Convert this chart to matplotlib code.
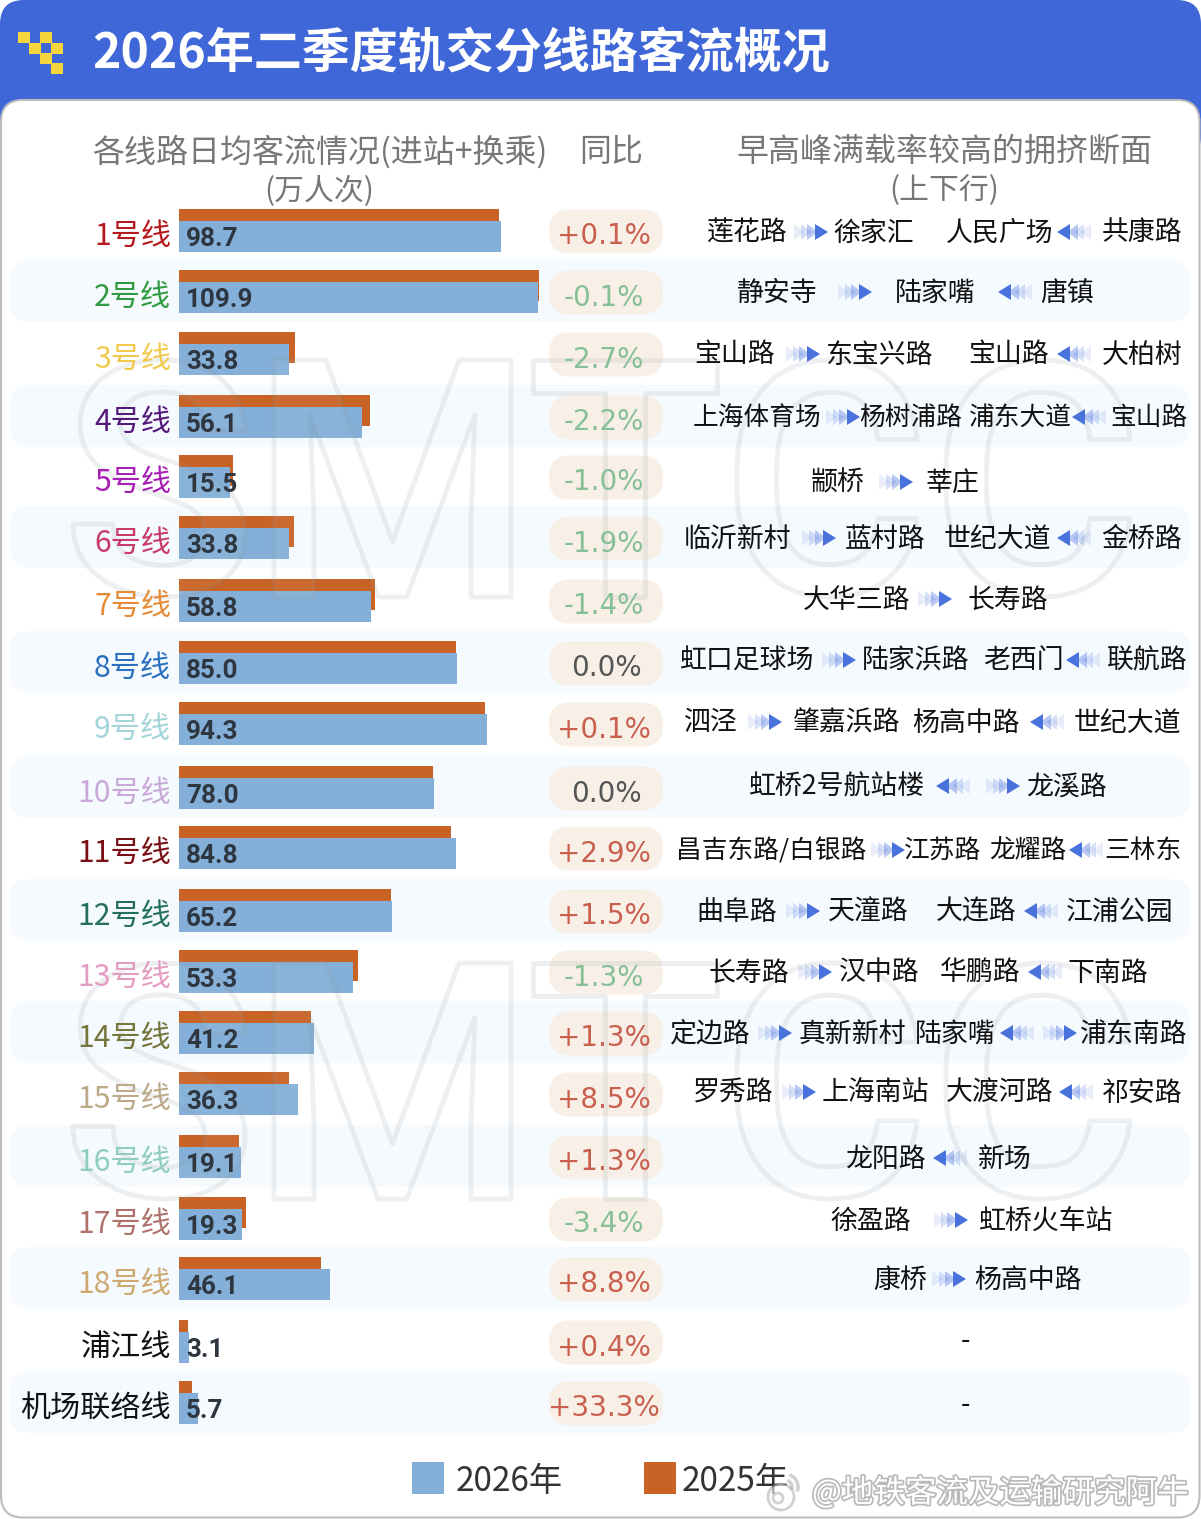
import numpy as np
import matplotlib
matplotlib.use('Agg')
import matplotlib.pyplot as plt
import matplotlib.patheffects as pe
from matplotlib.font_manager import FontProperties
from matplotlib.patches import FancyBboxPatch, PathPatch, Polygon, Rectangle, Circle, Arc
from matplotlib.textpath import TextPath
from matplotlib.transforms import Affine2D

plt.rcParams['font.family'] = ['Noto Sans CJK SC', 'DejaVu Sans']

# data
lines = ['1号线', '2号线', '3号线', '4号线', '5号线', '6号线', '7号线', '8号线', '9号线', '10号线',
         '11号线', '12号线', '13号线', '14号线', '15号线', '16号线', '17号线', '18号线', '浦江线', '机场联络线']
flow2026 = [98.7, 109.9, 33.8, 56.1, 15.5, 33.8, 58.8, 85.0, 94.3, 78.0,
            84.8, 65.2, 53.3, 41.2, 36.3, 19.1, 19.3, 46.1, 3.1, 5.7]
flow2025 = [98.1, 110.4, 35.5, 58.5, 16.5, 35.2, 59.9, 84.9, 93.7, 77.9,
            83.3, 64.9, 54.7, 40.4, 33.7, 18.4, 20.6, 43.4, 2.9, 4.1]
yoy = ['+0.1%', '-0.1%', '-2.7%', '-2.2%', '-1.0%', '-1.9%', '-1.4%', '0.0%', '+0.1%', '0.0%',
       '+2.9%', '+1.5%', '-1.3%', '+1.3%', '+8.5%', '+1.3%', '-3.4%', '+8.8%', '+0.4%', '+33.3%']

# > and < are the direction arrows
sections = [
    ['莲花路', '>', '徐家汇', '人民广场', '<', '共康路'],
    ['静安寺', '>', '陆家嘴', '<', '唐镇'],
    ['宝山路', '>', '东宝兴路', '宝山路', '<', '大柏树'],
    ['上海体育场', '>', '杨树浦路', '浦东大道', '<', '宝山路'],
    ['颛桥', '>', '莘庄'],
    ['临沂新村', '>', '蓝村路', '世纪大道', '<', '金桥路'],
    ['大华三路', '>', '长寿路'],
    ['虹口足球场', '>', '陆家浜路', '老西门', '<', '联航路'],
    ['泗泾', '>', '肇嘉浜路', '杨高中路', '<', '世纪大道'],
    ['虹桥2号航站楼', '<', '>', '龙溪路'],
    ['昌吉东路/白银路', '>', '江苏路', '龙耀路', '<', '三林东'],
    ['曲阜路', '>', '天潼路', '大连路', '<', '江浦公园'],
    ['长寿路', '>', '汉中路', '华鹏路', '<', '下南路'],
    ['定边路', '>', '真新新村', '陆家嘴', '<', '>', '浦东南路'],
    ['罗秀路', '>', '上海南站', '大渡河路', '<', '祁安路'],
    ['龙阳路', '<', '新场'],
    ['徐盈路', '>', '虹桥火车站'],
    ['康桥', '>', '杨高中路'],
    ['-'],
    ['-'],
]

# layout, pixels
section_x = [
    [747, 811, 874, 1000, 1074, 1142],
    [777, 855, 935, 1015, 1067],
    [735, 803, 879, 1009, 1074, 1142],
    [757, 843, 911, 1020, 1089, 1149],
    [838, 896, 952],
    [738, 819, 885, 997, 1074, 1142],
    [857, 935, 1008],
    [747, 839, 916, 1023, 1083, 1147],
    [711, 765, 846, 966, 1047, 1127],
    [837, 953, 1003, 1066],
    [771, 888, 943, 1028, 1086, 1143],
    [737, 803, 868, 976, 1041, 1120],
    [749, 815, 879, 980, 1045, 1108],
    [710, 775, 852, 955, 1017, 1060, 1134],
    [733, 799, 875, 1000, 1076, 1142],
    [885, 950, 1005],
    [871, 951, 1046],
    [900, 949, 1028],
    [965],
    [965],
]
section_y = [231, 291, 353, 416, 481, 537, 598, 659, 721, 785,
             849, 910, 971, 1032, 1091, 1157, 1219, 1278, 1339, 1404]
section_size = [19.4, 19.4, 19.4, 18.5, 19.4, 19.4, 19.4, 19.4, 19.4, 19.4,
                18.5, 19.4, 19.4, 19.4, 19.4, 19.4, 19.4, 19.4, 19.4, 19.4]
row_top = [221, 282, 344, 407, 467, 528, 591, 653, 714, 778,
           838, 901, 962, 1023, 1084, 1147, 1209, 1269, 1332, 1393]
line_colors = ['#b5181d', '#2f9a3f', '#f2c94f', '#54197a', '#a81fb5', '#c93a68', '#e68a35', '#2a6fc0',
               '#a3d5d8', '#c9a9d8', '#7a1015', '#24705a', '#e39cc2', '#75743a', '#bba98a', '#8fcdc0',
               '#b0716c', '#cfa86f', '#111111', '#111111']

W, H = 1201, 1519
BAR_X0 = 179
PX_PER_UNIT = 3.265
BLUE = '#84afd9'
ORANGE = '#c96225'
HEAD = '#3f67d8'


def box(ax, x0, y0, x1, y1, r, **kw):
    p = FancyBboxPatch((x0 + r, y0 + r), x1 - x0 - 2 * r, y1 - y0 - 2 * r,
                       boxstyle='round,pad=%f,rounding_size=%f' % (r, r), **kw)
    ax.add_patch(p)
    return p


def arrow(ax, xc, yc, direction):
    # three faded chevrons and one solid head
    sign = 1 if direction == '>' else -1
    for off, a in zip([-17, -10, -4, 4], [0.12, 0.22, 0.38, 1.0]):
        x = xc + sign * off
        w = 13 if a == 1.0 else 11
        ax.add_patch(Polygon([[x, yc - 8], [x + sign * w, yc], [x, yc + 8]], closed=True,
                             fc='#4a72dc', ec='none', alpha=a, zorder=6))


def outline_word(ax, ch, x0, x1, y0, y1):
    tp = TextPath((0, 0), ch, size=100, prop=FontProperties(family='Roboto', weight='medium'))
    bb = tp.get_extents()
    tr = (Affine2D().translate(-bb.x0, -bb.y0)
          .scale((x1 - x0) / bb.width, -(y1 - y0) / bb.height)
          .translate(x0, y1))
    ax.add_patch(PathPatch(tr.transform_path(tp), fc=(1, 1, 1, 0.05), ec=(0.55, 0.58, 0.6, 0.14),
                           lw=3.5, joinstyle='round', zorder=5))


fig = plt.figure(figsize=(W / 100, H / 100), dpi=100, facecolor='white')

# background layer in pixel coordinates
bg = fig.add_axes([0, 0, 1, 1], zorder=0)
bg.set_xlim(0, W)
bg.set_ylim(H, 0)
bg.axis('off')

box(bg, 0, 0, W, 160, 24, fc=HEAD, ec='none')
box(bg, 1, 100, W - 1.5, H - 1.5, 22, fc='white', ec='#bdbdbd', lw=1.5)

for i in range(1, 20, 2):
    box(bg, 10, row_top[i] - 22, 1190, row_top[i] + 40, 20, fc='#f5faff', ec='none')

for i, t in enumerate(yoy):
    box(bg, 549, row_top[i] - 11.5, 663, row_top[i] + 32.5, 21, fc='#f8f0e7', ec='none')

# logo
for lx, ly in [(18, 32), (40, 32), (29, 43), (51, 43), (40, 53), (51, 63)]:
    bg.add_patch(Rectangle((lx, ly), 11.5, 10.5, fc='#f4d63c', ec='none'))

bg.text(92, 54, '2026年二季度轨交分线路客流概况', color='white', fontsize=34.6, fontweight='bold',
        ha='left', va='center')

bg.text(320, 152, '各线路日均客流情况(进站+换乘)', color='#777777', fontsize=23, ha='center', va='center')
bg.text(319, 191, '(万人次)', color='#777777', fontsize=21.5, ha='center', va='center')
bg.text(611, 152, '同比', color='#777777', fontsize=23, ha='center', va='center')
bg.text(944, 152, '早高峰满载率较高的拥挤断面', color='#777777', fontsize=23, ha='center', va='center')
bg.text(944, 191, '(上下行)', color='#777777', fontsize=21.5, ha='center', va='center')

# bars, x in 万人次, y in pixels
ax = fig.add_axes([BAR_X0 / W, 0, 1 - BAR_X0 / W, 1], zorder=1)
ax.patch.set_alpha(0)
ax.set_xlim(0, (W - BAR_X0) / PX_PER_UNIT)
ax.set_ylim(H, 0)
ax.axis('off')
ypos = np.array(row_top, dtype=float) + 15.5
ax.barh(ypos - 12, flow2025, height=31, color=ORANGE, zorder=1)
ax.barh(ypos, flow2026, height=31, color=BLUE, zorder=2)

# text and watermark layer
fg = fig.add_axes([0, 0, 1, 1], zorder=2)
fg.patch.set_alpha(0)
fg.set_xlim(0, W)
fg.set_ylim(H, 0)
fg.axis('off')

for i in range(len(lines)):
    fg.text(171, row_top[i] + 15.5, lines[i], color=line_colors[i], fontsize=21.7, ha='right', va='center', zorder=7)
    fg.text(186, row_top[i] + 18, '%.1f' % flow2026[i], color='#2e3640', fontsize=18.7, fontweight='bold',
            family='Roboto', ha='left', va='center', zorder=7)
    t = yoy[i]
    c = '#c9604f' if t[0] == '+' else '#86c096' if t[0] == '-' else '#555555'
    tx = 606 if len(t) == 4 else 604
    fg.text(tx, row_top[i] + 15.5, t, color=c, fontsize=20, family='DejaVu Sans', ha='center', va='center', zorder=7)
    for name, x in zip(sections[i], section_x[i]):
        if name in ('>', '<'):
            arrow(fg, x, section_y[i] + 1, name)
        else:
            fg.text(x, section_y[i] + 2, name, color='#111111', fontsize=section_size[i], ha='center', va='center', zorder=7)

letters = ['S', 'M', 'T', 'C', 'C']
letter_x = [(73, 245), (274, 511), (533, 717), (737, 917), (946, 1130)]
for ytop, ybot in [(360, 597), (963, 1199)]:
    for ch, (x0, x1) in zip(letters, letter_x):
        outline_word(fg, ch, x0, x1, ytop, ybot)

# legend
fg.add_patch(Rectangle((412, 1462), 32, 32, fc=BLUE, ec='none'))
fg.add_patch(Rectangle((644, 1462), 32, 32, fc=ORANGE, ec='none'))
fg.text(456, 1481, '2026年', color='#333333', fontsize=24, ha='left', va='center')
fg.text(682, 1481, '2025年', color='#333333', fontsize=24, ha='left', va='center')

# weibo mark
mark = (0.6, 0.6, 0.6, 0.45)
fg.add_patch(Circle((781, 1497), 13, fc=(1, 1, 1, 0.6), ec=mark, lw=2, zorder=8))
fg.add_patch(Circle((778, 1498), 5, fc='none', ec=mark, lw=2, zorder=8))
fg.add_patch(Arc((785, 1487), 26, 26, theta1=-70, theta2=20, ec=mark, lw=2.5, zorder=8))
fg.add_patch(Arc((785, 1487), 14, 14, theta1=-70, theta2=20, ec=mark, lw=2.5, zorder=8))
fg.text(812, 1493, '@地铁客流及运输研究阿牛', color='white', fontsize=22.7, ha='left', va='center', zorder=8,
        path_effects=[pe.withStroke(linewidth=2.5, foreground=(0.55, 0.55, 0.55, 0.6))])

fig.savefig('out.png', dpi=100, facecolor='white')
